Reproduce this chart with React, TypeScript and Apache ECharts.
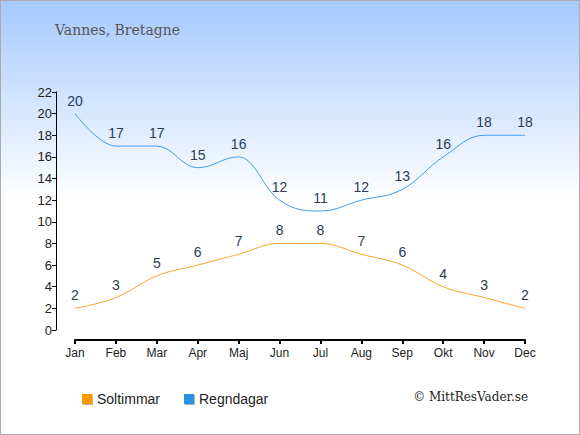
import React, { useEffect, useRef } from "react";
import * as echarts from "echarts";

const months = ["Jan", "Feb", "Mar", "Apr", "Maj", "Jun", "Jul", "Aug", "Sep", "Okt", "Nov", "Dec"];
const soltimmar = [2, 3, 5, 6, 7, 8, 8, 7, 6, 4, 3, 2];
const regndagar = [20, 17, 17, 15, 16, 12, 11, 12, 13, 16, 18, 18];
const yTicks = { min: 0, max: 22, interval: 2 };

type P = [number, number];

function splinePath(pts: P[]): string {
  const n = pts.length;
  const sm = 1.5;
  const den = sm + 1;
  const left: P[] = [];
  const right: P[] = [];
  for (let i = 0; i < n; i++) {
    const [x, y] = pts[i];
    if (i === 0 || i === n - 1) {
      left.push([x, y]);
      right.push([x, y]);
      continue;
    }
    const [lx, ly] = pts[i - 1];
    const [nx, ny] = pts[i + 1];
    const lcx = (sm * x + lx) / den;
    let lcy = (sm * y + ly) / den;
    const rcx = (sm * x + nx) / den;
    let rcy = (sm * y + ny) / den;
    if (rcx !== lcx) {
      const corr = ((rcy - lcy) * (rcx - x)) / (rcx - lcx) + y - rcy;
      lcy += corr;
      rcy += corr;
    }
    if (lcy > ly && lcy > y) {
      lcy = Math.max(ly, y);
      rcy = 2 * y - lcy;
    } else if (lcy < ly && lcy < y) {
      lcy = Math.min(ly, y);
      rcy = 2 * y - lcy;
    }
    if (rcy > ny && rcy > y) {
      rcy = Math.max(ny, y);
      lcy = 2 * y - rcy;
    } else if (rcy < ny && rcy < y) {
      rcy = Math.min(ny, y);
      lcy = 2 * y - rcy;
    }
    left.push([lcx, lcy]);
    right.push([rcx, rcy]);
  }
  let d = `M${pts[0][0]},${pts[0][1]}`;
  for (let i = 1; i < n; i++) {
    d += ` C${right[i - 1][0]},${right[i - 1][1]} ${left[i][0]},${left[i][1]} ${pts[i][0]},${pts[i][1]}`;
  }
  return d;
}

function makeSeries(name: string, values: number[], lineColor: string, iconColor: string) {
  return {
    name,
    type: "custom",
    data: values.map((v, i) => [i, v]),
    itemStyle: { color: iconColor },
    renderItem: (params: any, api: any) => {
      const children: any[] = [];
      if (params.dataIndex === 0) {
        const pts = values.map((v, i) => api.coord([i, v]) as P);
        children.push({
          type: "path",
          shape: { pathData: splinePath(pts) },
          style: { stroke: lineColor, fill: "none", lineWidth: 1 },
          silent: true,
        });
      }
      const c = api.coord([api.value(0), api.value(1)]);
      children.push({
        type: "text",
        x: c[0],
        y: c[1] - 6,
        style: {
          text: String(api.value(1)),
          fill: "#2a3b58",
          font: "14px 'Liberation Sans', Arial, sans-serif",
          align: "center",
          verticalAlign: "bottom",
        },
      });
      return { type: "group", children };
    },
  };
}

export default function App() {
  const ref = useRef<HTMLDivElement>(null);
  useEffect(() => {
    document.body.style.margin = "0";
    const chart = echarts.init(ref.current!, null, { renderer: "svg" });
    chart.setOption({
      animation: false,
      title: {
        text: "Vannes, Bretagne",
        left: 49,
        top: 17,
        textStyle: { fontFamily: "DejaVu Serif", fontSize: 14, fontWeight: "normal", color: "#555" },
      },
      graphic: [
        {
          type: "text",
          right: 51,
          top: 390,
          style: {
            text: "© MittResVader.se",
            font: "12px 'DejaVu Serif'",
            fill: "#222",
          },
        },
      ],
      legend: {
        left: 76,
        top: 386,
        itemWidth: 10,
        itemHeight: 10,
        itemGap: 24,
        icon: "rect",
        textStyle: { fontFamily: "Liberation Sans, Arial, sans-serif", fontSize: 14, color: "#222" },
        itemStyle: { shadowColor: "rgba(0,0,0,0.3)", shadowOffsetX: 1, shadowOffsetY: 1, shadowBlur: 1 },
      },
      grid: { left: 74, right: 54, top: 91, bottom: 104 },
      xAxis: [{
        type: "category",
        data: months,
        boundaryGap: false,
        position: "bottom",
        offset: 10,
        axisLine: { show: true, onZero: false, lineStyle: { color: "#000", width: 2 } },
        axisTick: { show: true, length: 4, alignWithLabel: true, lineStyle: { color: "#000", width: 2 } },
        axisLabel: { color: "#222", fontSize: 12, margin: 7, fontFamily: "Liberation Sans, Arial, sans-serif" },
        splitLine: { show: false },
      }],
      yAxis: [{
        type: "value",
        min: yTicks.min,
        max: yTicks.max,
        interval: yTicks.interval,
        offset: 19,
        axisLine: { show: true, lineStyle: { color: "#000" } },
        axisTick: { show: true, length: 4, lineStyle: { color: "#000" } },
        axisLabel: { color: "#222", fontSize: 13, margin: 4, fontFamily: "Liberation Sans, Arial, sans-serif" },
        splitLine: { show: false },
      }],
      series: [
        makeSeries("Soltimmar", soltimmar, "#ffa62b", "#ff9900"),
        makeSeries("Regndagar", regndagar, "#3d9ef0", "#2b92e6"),
      ],
    });
    return () => chart.dispose();
  }, []);
  return (
    <div
      ref={ref}
      style={{
        width: 580,
        height: 435,
        boxSizing: "border-box",
        border: "1px solid #aaa",
        background: "linear-gradient(to bottom, #a6c9fe 0%, #ffffff 46%, #ffffff 100%)",
      }}
    />
  );
}
